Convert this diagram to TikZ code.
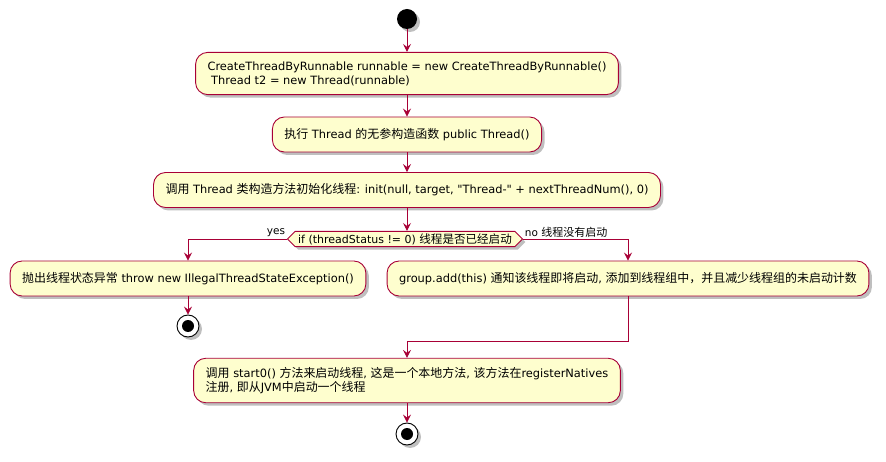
\documentclass[tikz,border=0pt]{standalone}
\usepackage{fontspec}
\setmainfont{DejaVu Sans}[Ligatures=TeXOff]
\newfontfamily\cjk[Scale=1.05]{Noto Sans CJK SC}
\newcommand{\zh}[1]{{\cjk #1}}
\usetikzlibrary{arrows.meta, shapes.symbols, shadows}

\definecolor{umlred}{HTML}{A80036}
\definecolor{umlfill}{HTML}{FEFECE}

\tikzset{
  umlshadow/.style={drop shadow={shadow xshift=3pt, shadow yshift=-3pt, opacity=0.25, fill=black}},
  act/.style={draw=umlred, fill=umlfill, rounded corners=12pt, line width=0.9pt,
    inner xsep=12pt, inner ysep=9pt, minimum height=35pt, align=left,
    font=\fontsize{11.4}{14}\selectfont, umlshadow},
  cond/.style={signal, signal to=east and west, signal pointer angle=90,
    draw=umlred, fill=umlfill, line width=0.9pt, inner xsep=3pt, inner ysep=2pt,
    font=\fontsize{11}{13}\selectfont, umlshadow},
  lbl/.style={font=\fontsize{10.5}{12}\selectfont, inner sep=1.5pt},
  flow/.style={draw=umlred, line width=0.8pt, -{Stealth[length=8pt, width=8pt, inset=3pt]}},
  startdot/.style={circle, fill=black, minimum size=20pt, inner sep=0pt, umlshadow},
  stopdot/.style={circle, draw=black, line width=0.9pt, fill=white, minimum size=22pt, inner sep=0pt, umlshadow,
    path picture={\fill[black] (path picture bounding box.center) circle (6pt);}}
}

\begin{document}
\begin{tikzpicture}[x=1pt, y=-1pt]
	\useasboundingbox (0,0) rectangle (886,462);
	% steps
	\node[startdot] (start) at (407,19) {};
	\node[act] (b1) at (407,73.5) {CreateThreadByRunnable runnable = new CreateThreadByRunnable()\\ \ Thread t2 = new Thread(runnable)};
	\node[act] (b2) at (407,134.5) {\zh{执行} Thread \zh{的无参构造函数} public Thread()};
	\node[act] (b3) at (407,190) {\zh{调用} Thread \zh{类构造方法初始化线程}: init(null, target, "Thread-" + nextThreadNum(), 0)};
	\node[cond] (cond) at (405,239) {if (threadStatus != 0) \zh{线程是否已经启动}};
	\node[act] (b4) at (188,278.5) {\zh{抛出线程状态异常} throw new IllegalThreadStateException()};
	\node[stopdot] (stop1) at (188,326) {};
	\node[act] (b5) at (628,278.5) {group.add(this) \zh{通知该线程即将启动}, \zh{添加到线程组中，并且减少线程组的未启动计数}};
	\coordinate (mrg) at (407,341);
	\node[act] (b6) at (407,380.5) {\zh{调用} start0() \zh{方法来启动线程}, \zh{这是一个本地方法}, \zh{该方法在}registerNatives\\\zh{注册}, \zh{即从}JVM\zh{中启动一个线程}};
	\node[stopdot] (stop2) at (407,434) {};
	% flows
	\draw[flow] (start) -- (b1);
	\draw[flow] (b1) -- (b2);
	\draw[flow] (b2) -- (b3);
	\draw[flow] (b3.south) -- (b3.south |- cond.north);
	\draw[flow] (cond.west) node[lbl, above left] {yes} -| (b4.north);
	\draw[flow] (b4) -- (stop1);
	\draw[flow] (cond.east) node[lbl, above right] {no \zh{线程没有启动}} -| (b5.north);
	\draw[flow] (b5.south) |- (mrg) -- (b6.north);
	\draw[flow] (b6) -- (stop2);
\end{tikzpicture}
\end{document}
